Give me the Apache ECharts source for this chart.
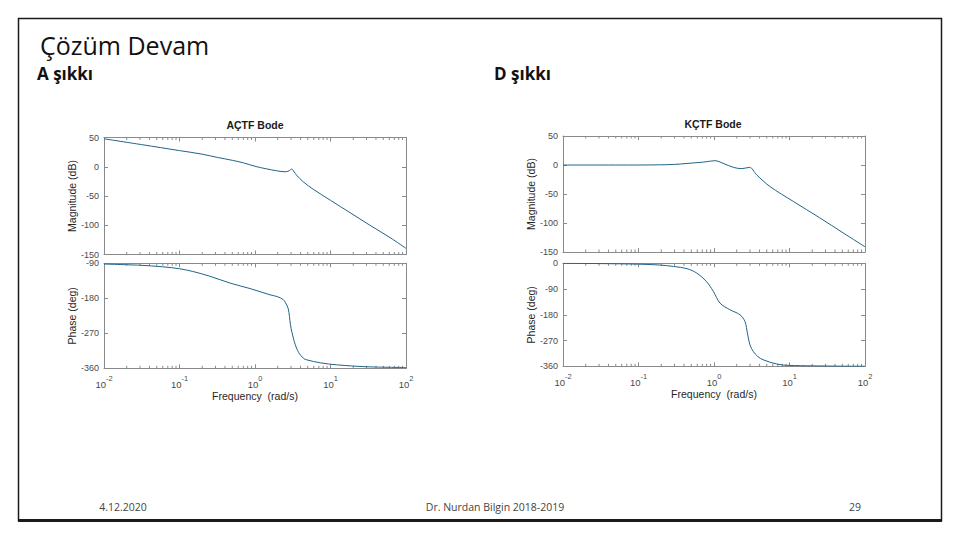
<!DOCTYPE html>
<html>
<head>
<meta charset="utf-8">
<script src="https://cdn.jsdelivr.net/npm/echarts@6/dist/echarts.min.js"></script>
<style>html,body{margin:0;padding:0;background:#fff;}#c{width:960px;height:540px;}</style>
</head>
<body>
<div id="c"></div>
<script>
// ---- data ----
// A şıkkı (AÇTF) magnitude: frequency (rad/s), dB
const freqMagA = [0.01, 0.0316, 0.1, 0.2, 0.316, 0.5, 0.71, 1.0, 1.41, 1.94, 2.51, 2.82, 3.06, 3.31, 3.55, 4.37, 5.89, 10, 18.2, 33.1, 61.7, 100];
const magA     = [47.8, 37.8, 27.6, 21.5, 16, 11, 6.5, 0.8, -3.5, -6.9, -8.6, -7, -4, -9, -14.3, -25.9, -38.4, -57.4, -78.6, -99.8, -121.2, -139.5];
// A şıkkı phase: frequency, deg
const freqPhA = [0.01, 0.03, 0.06, 0.1, 0.15, 0.25, 0.47, 0.86, 1.58, 2.0, 2.37, 2.51, 2.75, 2.95, 3.09, 3.31, 3.55, 3.8, 4.37, 4.79, 7.4, 12, 30, 100];
const phA     = [-92, -95, -99, -104, -111, -123, -141, -155, -171, -176, -183.5, -190, -206, -248, -268, -291, -308, -320, -334, -338, -346, -351, -356, -358];
// D şıkkı (KÇTF) magnitude
const freqMagD = [0.01, 0.1, 0.19, 0.3, 0.44, 0.63, 0.79, 1.03, 1.32, 1.8, 2.34, 2.95, 3.67, 5.5, 11.2, 25.1, 51.3, 100];
const magD     = [0, 0, 0.3, 1, 2.7, 4.3, 5.6, 7.4, 2.9, -4, -6.3, -4, -17, -37, -62.7, -91, -117, -141];
// D şıkkı phase
const freqPhD = [0.01, 0.03, 0.1, 0.19, 0.29, 0.44, 0.59, 0.79, 0.98, 1.2, 1.62, 2.21, 2.57, 2.69, 2.85, 3.02, 3.31, 3.8, 4.47, 6.76, 10, 100];
const phD     = [0, -1, -3, -6, -11, -19, -34, -63, -98, -139, -162, -180, -203, -225, -261, -288, -308, -326, -337, -352, -357, -360];
// tick label values
const magTicks = [50, 0, -50, -100, -150];
const phTicksA = [-90, -180, -270, -360];
const phTicksD = [0, -90, -180, -270, -360];
const freqDecades = [0.01, 0.1, 1, 10, 100];

// ---- layout ----
const GRIDS = [
  {left: 104, top: 137.5, width: 302, height: 117},
  {left: 104, top: 263.3, width: 302, height: 105},
  {left: 563, top: 136, width: 302, height: 116},
  {left: 563, top: 263.3, width: 302, height: 103}
];
const AXC = '#8a8a8a';
const LBL = '#4a4a4a';
const FONT = 'Liberation Sans';
const LINE = '#1f6488';

function minorList(){
  const out = [];
  for (let k = -2; k < 2; k++) for (let m = 2; m <= 9; m++) out.push(+(m * Math.pow(10, k)).toPrecision(3));
  return out;
}
const minorFreqs = minorList();

function xAxes(g, showLabels, showName){
  const base = {
    type: 'log', logBase: 10, gridIndex: g, min: freqDecades[0], max: freqDecades[freqDecades.length-1],
    axisLine: {show: true, onZero: false, lineStyle: {color: AXC, width: 1}},
    axisTick: {show: true, inside: true, length: 4, lineStyle: {color: AXC}},
    splitLine: {show: false}, minorTick: {show: false}
  };
  const bottom = Object.assign({}, base, {
    position: 'bottom',
    axisLabel: {
      show: showLabels, margin: 6, color: LBL, fontFamily: FONT,
      formatter: v => '{b|10}{s|' + Math.round(Math.log10(v)) + '}',
      rich: {
        b: {fontSize: 9.5, fontFamily: FONT, color: LBL, lineHeight: 15, verticalAlign: 'bottom'},
        s: {fontSize: 7.5, fontFamily: FONT, color: LBL, lineHeight: 15, verticalAlign: 'top'}
      }
    }
  });
  if (showName) {
    bottom.name = 'Frequency  (rad/s)';
    bottom.nameLocation = 'middle';
    bottom.nameGap = 21;
    bottom.nameTextStyle = {fontSize: 10.5, color: '#262626', fontFamily: FONT};
  }
  const top = Object.assign({}, base, {position: 'top', axisLabel: {show: false}});
  return [bottom, top];
}
function yAxes(g, min, max, interval, name){
  const base = {
    type: 'value', gridIndex: g, min: min, max: max, interval: interval,
    axisLine: {show: true, onZero: false, lineStyle: {color: AXC, width: 1}},
    axisTick: {show: true, inside: true, length: 4, lineStyle: {color: AXC}},
    splitLine: {show: false}
  };
  const left = Object.assign({}, base, {
    position: 'left', name: name, nameLocation: 'middle', nameGap: 27, nameRotate: 90,
    nameTextStyle: {fontSize: 10.5, color: '#262626', fontFamily: FONT},
    axisLabel: {show: true, margin: 5, fontSize: 9, color: LBL, fontFamily: FONT}
  });
  const right = Object.assign({}, base, {position: 'right', axisLabel: {show: false}});
  return [left, right];
}

const xAxis = [].concat(xAxes(0, false, false), xAxes(1, true, true), xAxes(2, false, false), xAxes(3, true, true));
const yAxis = [].concat(
  yAxes(0, magTicks[magTicks.length-1], magTicks[0], 50, 'Magnitude (dB)'),
  yAxes(1, phTicksA[phTicksA.length-1], phTicksA[0], 90, 'Phase (deg)'),
  yAxes(2, magTicks[magTicks.length-1], magTicks[0], 50, 'Magnitude (dB)'),
  yAxes(3, phTicksD[phTicksD.length-1], phTicksD[0], 90, 'Phase (deg)')
);

function lineSeries(g, fx, fy){
  return {
    type: 'line', xAxisIndex: 2*g, yAxisIndex: 2*g,
    data: fx.map((f, i) => [f, fy[i]]),
    showSymbol: false, smooth: 0.35, silent: true,
    lineStyle: {color: LINE, width: 1}
  };
}
function minorSeries(g, yv){
  return {
    type: 'custom', xAxisIndex: 2*g, yAxisIndex: 2*g, silent: true, clip: false,
    data: minorFreqs.map(f => [f, yv]),
    renderItem: function(params, api){
      const p = api.coord([api.value(0), api.value(1)]);
      const cs = params.coordSys;
      return {type: 'group', children: [
        {type: 'line', shape: {x1: p[0], y1: cs.y, x2: p[0], y2: cs.y + 2.5}, style: {stroke: AXC, lineWidth: 1}},
        {type: 'line', shape: {x1: p[0], y1: cs.y + cs.height, x2: p[0], y2: cs.y + cs.height - 2.5}, style: {stroke: AXC, lineWidth: 1}}
      ]};
    }
  };
}

const series = [
  minorSeries(0, 0), minorSeries(1, -180), minorSeries(2, 0), minorSeries(3, -180),
  lineSeries(0, freqMagA, magA),
  lineSeries(1, freqPhA, phA),
  lineSeries(2, freqMagD, magD),
  lineSeries(3, freqPhD, phD)
];

const txt = (x, y, text, size, opts) => Object.assign({
  type: 'text', silent: true,
  style: Object.assign({x: x, y: y, text: text, fontSize: size, fontFamily: 'Open Sans', fill: '#111', textAlign: 'left', textVerticalAlign: 'middle'}, opts || {})
});

const graphic = [
  {type: 'rect', silent: true, shape: {x: 18.5, y: 18.5, width: 923, height: 502}, style: {fill: 'none', stroke: '#1a1a1a', lineWidth: 1.5}},
  {type: 'line', silent: true, shape: {x1: 18, y1: 520.5, x2: 942, y2: 520.5}, style: {stroke: '#1a1a1a', lineWidth: 3}},
  txt(40, 45, 'Çözüm Devam', 25),
  txt(37, 73, 'A şıkkı', 17, {fontWeight: 'bold'}),
  txt(494, 73, 'D şıkkı', 17, {fontWeight: 'bold'}),
  txt(255, 125, 'AÇTF Bode', 10.5, {textAlign: 'center', fontFamily: FONT, fontWeight: 'bold', fill: '#1a1a1a'}),
  txt(713, 124, 'KÇTF Bode', 10.5, {textAlign: 'center', fontFamily: FONT, fontWeight: 'bold', fill: '#1a1a1a'}),
  txt(123, 507, '4.12.2020', 10.5, {textAlign: 'center', fill: '#444'}),
  txt(495, 507, 'Dr. Nurdan Bilgin 2018-2019', 10.5, {textAlign: 'center', fill: '#444'}),
  txt(855, 507, '29', 10.5, {textAlign: 'center', fill: '#444'})
];

const chart = echarts.init(document.getElementById('c'), null, {renderer: 'svg', width: 960, height: 540});
chart.setOption({
  animation: false,
  backgroundColor: '#ffffff',
  grid: GRIDS.map(g => Object.assign({containLabel: false}, g)),
  xAxis: xAxis,
  yAxis: yAxis,
  series: series,
  graphic: graphic
});
</script>
</body>
</html>
